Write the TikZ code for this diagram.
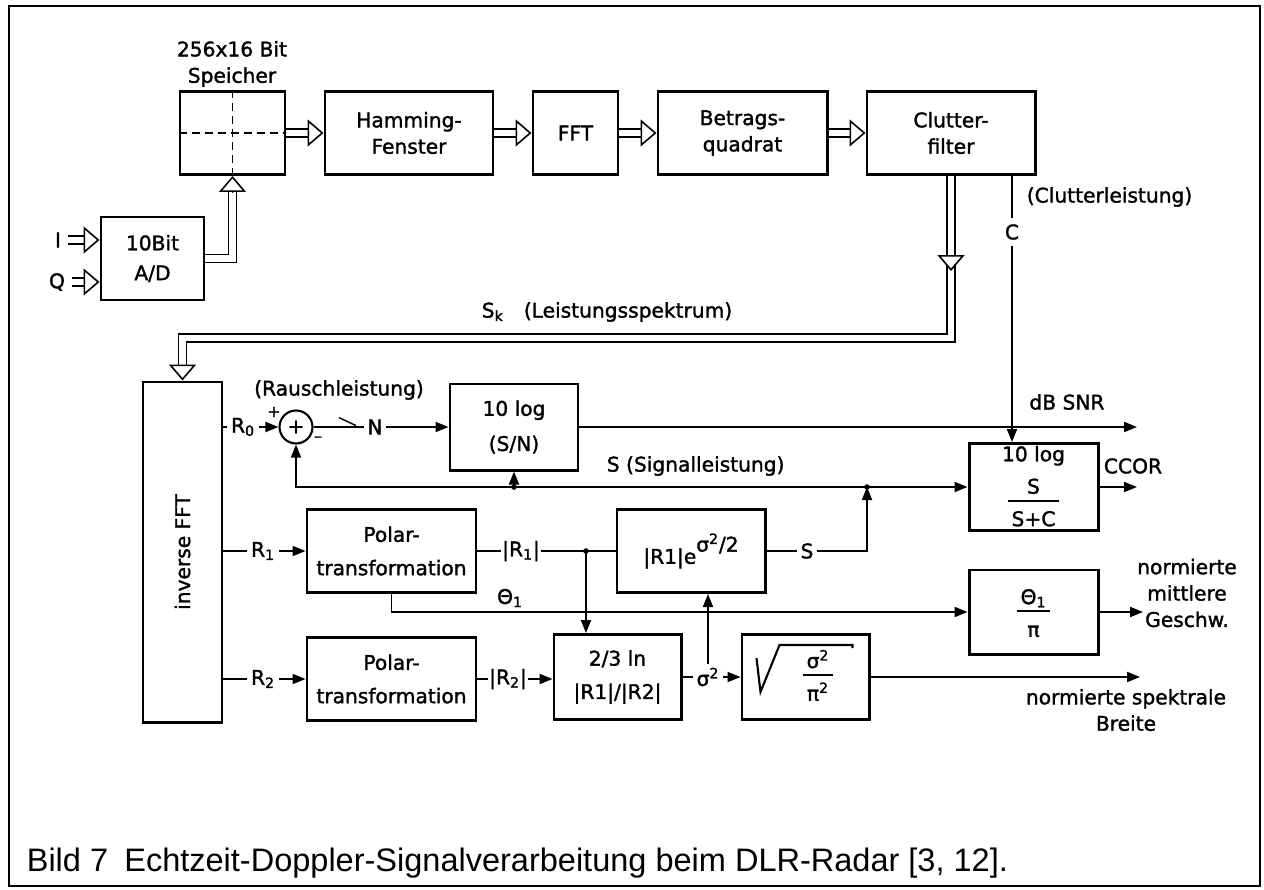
\documentclass[tikz,border=0pt]{standalone}
\usepackage{fontspec}
\setmainfont{DejaVu Sans}[FakeBold=1.5]
\newfontfamily\capfont{Liberation Sans}
\usetikzlibrary{arrows.meta}
\setlength\arrayrulewidth{1pt}
\newcommand\fracbox[2]{\begin{tabular}{@{\,}c@{\,}}\rule{0pt}{14pt}#1\\[-1pt]\hline\rule{0pt}{14pt}#2\end{tabular}}

\begin{document}
\begin{tikzpicture}[x=0.2mm, y=-0.2mm, line width=1.1pt,
    every node/.style={font=\fontsize{11.5}{15}\selectfont},
    blk/.style={draw, line width=1.7pt, align=center, inner sep=1pt},
    tag/.style={inner sep=1.5pt},
    arr/.style={-{Triangle[length=2.6mm,width=2mm]}},
    bus/.style={double=white, double distance=3.6pt, line width=0.9pt},
    bushead/.style={-{Triangle[fill=white,length=3.2mm,width=5.4mm,line width=0.9pt]}}]
  \useasboundingbox (0,0) rectangle (1264,890);
  \draw[line width=1.4pt] (9,6) rectangle (1260,886);

  % Speicher und Vorverarbeitung
  \node[blk, minimum width=21mm, minimum height=16.6mm] (spk) at (232.5,133) {};
  \draw[line width=1pt, dash pattern=on 1.6mm off 1mm] (spk.north) -- (spk.south) (spk.west) -- (spk.east);
  \node[align=center] (spklab) at (232,64) {256x16 Bit\\Speicher};
  \node[blk, minimum width=33.6mm, minimum height=16.6mm] (ham) at (409,133) {Hamming-\\Fenster};
  \node[blk, minimum width=17mm, minimum height=16.6mm] (fft) at (575.5,133) {FFT};
  \node[blk, minimum width=33.8mm, minimum height=16.6mm] (btq) at (742.5,133) {Betrags-\\quadrat};
  \node[blk, minimum width=33.6mm, minimum height=16.6mm] (clf) at (951,133) {Clutter-\\filter};
  \node[blk, minimum width=20.6mm, minimum height=16.6mm] (ad) at (152.5,258.5) {10Bit\\[2pt]A/D};
  \node (iin) at (58,240) {I};
  \node (qin) at (57,282) {Q};

  \foreach \a/\b in {spk/ham, ham/fft, fft/btq, btq/clf} {
    \draw[bus] (\a.east) -- ([xshift=-3.2mm]\b.west);
    \draw[bushead] ([xshift=-3.2mm]\b.west) -- (\b.west);
  }
  \foreach \s in {iin, qin} {
    \coordinate (\s b) at ([xshift=-3.2mm]ad.west |- \s);
    \draw[bus] (\s.east) -- (\s b);
    \draw[bushead] (\s b) -- (ad.west |- \s);
  }
  \draw[bus] (ad.east) -| ([yshift=-3.2mm]spk.south);
  \draw[bushead] ([yshift=-3.2mm]spk.south) -- (spk.south);

  % Leistungsspektrum zur inversen FFT
  \node[blk, minimum width=15.8mm, minimum height=68mm] (ifft) at (182.5,552) {};
  \node[rotate=90] (ifftlab) at (ifft) {inverse FFT};
  \coordinate (kb) at (951,255);
  \coordinate (kt) at (951,271);
  \coordinate (kc) at (951,338);
  \draw[bus] (clf.south) -- (kc) -| ([yshift=3.2mm]ifft.north);
  \draw[bushead] (kb) -- (kt);
  \draw[bushead] ([yshift=3.2mm]ifft.north) -- (ifft.north);
  \node (sk) at (607,312) {S\textsubscript{k}\quad(Leistungsspektrum)};

  \node (clab) at (1012,232) {C};
  \node[anchor=west] (cleist) at (1020,197) {(Clutterleistung)};

  % Rauschleistung, SNR
  \node[tag] (r0) at (243,427) {R\textsubscript{0}};
  \node[draw, circle, minimum size=6.6mm, inner sep=0pt, line width=1.2pt] (sum) at (296,427) {+};
  \node[font=\fontsize{9}{10}\selectfont] (pl) at (274,412) {+};
  \node[font=\fontsize{9}{10}\selectfont] (mi) at (318,439) {--};
  \node (rau) at (339,390) {(Rauschleistung)};
  \draw[line width=0.8pt] ([yshift=-2.2mm]rau.south) -- ++(17,8);
  \node[tag] (nn) at (375,427) {N};
  \node[blk, minimum width=25.6mm, minimum height=17.2mm] (snr) at (514,427) {10 log\\[5pt](S/N)};
  \coordinate (snrout) at (1137,427);
  \node (dbsnr) at (1067,402) {dB SNR};

  \node[blk, minimum width=25.8mm, minimum height=17.4mm] (cc) at (1033.5,487) {};
  \node[align=center] (cclab) at (1033.5,490) {10 log\\[1pt]\fracbox{S}{S+C}};
  \coordinate (ccout) at (1137,487);
  \node (ccor) at (1133,466) {CCOR};
  \node[anchor=west] (sleist) at (600,466) {S (Signalleistung)};
  \coordinate (jN) at (514,487);
  \coordinate (jS) at (867,487);

  % Polartransformation und Momente
  \node[tag] (r1) at (263,551) {R\textsubscript{1}};
  \node[tag] (r2) at (263,679) {R\textsubscript{2}};
  \node[blk, minimum width=33.8mm, minimum height=16.6mm] (pol1) at (391.5,551) {Polar-\\[4pt]transformation};
  \node[blk, minimum width=33.8mm, minimum height=16.6mm] (pol2) at (391.5,679) {Polar-\\[4pt]transformation};
  \node[inner sep=0pt] (ar1) at (521,551) {|R\textsubscript{1}|};
  \node[inner sep=0pt] (ar2) at (508,679) {|R\textsubscript{2}|};
  \node[blk, minimum width=29.6mm, minimum height=16.6mm] (exb) at (691,551) {|R1|e\raisebox{1.1ex}{σ\textsuperscript{2}/2}};
  \node[blk, minimum width=25.4mm, minimum height=17mm] (ln) at (617.5,677) {2/3 ln\\[4pt]|R1|/|R2|};
  \node[blk, minimum width=25.4mm, minimum height=17mm] (sq) at (805.5,677) {};
  \node (sqf) at (818,676) {\fracbox{σ\textsuperscript{2}}{π\textsuperscript{2}}};
  \draw[line width=1.2pt, line join=miter] (sq.center) ++(-49,-19) -- ++(4,34) -- ++(19,-47) -- ++(73,0) -- ++(0,3);
  \node[blk, minimum width=25.8mm, minimum height=16.8mm] (th) at (1033.5,612) {\fracbox{Θ\textsubscript{1}}{π}};
  \node (th1) at (510,598) {Θ\textsubscript{1}};
  \node[tag] (slab) at (807,551) {S};
  \node[tag] (sig) at (708,677) {σ\textsuperscript{2}};
  \coordinate (j1) at (586,551);
  \coordinate (thout) at (1143,612);
  \coordinate (sqout) at (1140,677);
  \node[align=center] (gesch) at (1187,593) {normierte\\mittlere\\Geschw.};
  \node[align=center] (breite) at (1126,710) {normierte spektrale\\Breite};

  % Verbindungen
  \draw (clf.south -| clab) -- (clab);
  \draw[arr] (clab) -- (clab |- cc.north);
  \draw (ifft.east |- r0) -- (r0);
  \draw[arr] (r0) -- (sum);
  \draw (sum) -- (nn);
  \draw[arr] (nn) -- (snr.west |- nn);
  \draw[arr] (snr.east) -- (snrout);
  \draw (exb.east |- slab) -- (slab);
  \draw[arr] (slab) -| (jS);
  \draw[arr] (jS) -- (cc.west |- jS);
  \draw (jS) -- (jN);
  \draw[arr] (jN) -| (sum.south);
  \draw[arr] (jN) -- (snr.south);
  \draw[arr] (cc.east) -- (ccout);
  \draw (ifft.east |- r1) -- (r1);
  \draw[arr] (r1) -- (pol1.west |- r1);
  \draw (ifft.east |- r2) -- (r2);
  \draw[arr] (r2) -- (pol2.west |- r2);
  \draw (pol1.east |- ar1) -- (ar1);
  \draw (ar1) -- (exb.west |- ar1);
  \draw[arr] (j1) -- (j1 |- ln.north);
  \draw[arr] (pol1.south) |- (th.west);
  \draw[arr] (th.east) -- (thout);
  \draw (pol2.east |- ar2) -- (ar2);
  \draw[arr] (ar2) -- (ln.west |- ar2);
  \draw (ln.east |- sig) -- (sig);
  \draw[arr] (sig) -- (sq.west |- sig);
  \draw[arr] (sig.north) -- (sig.north |- exb.south);
  \draw[arr] (sq.east) -- (sqout);
  \foreach \p in {j1, jN, jS}
    \fill (\p) circle (1.6pt);

  \node[anchor=base west, font=\capfont\fontsize{18.5}{22}\selectfont] (cap) at (20,871)
    {Bild 7\enspace Echtzeit-Doppler-Signalverarbeitung beim DLR-Radar [3, 12].};
\end{tikzpicture}
\end{document}
